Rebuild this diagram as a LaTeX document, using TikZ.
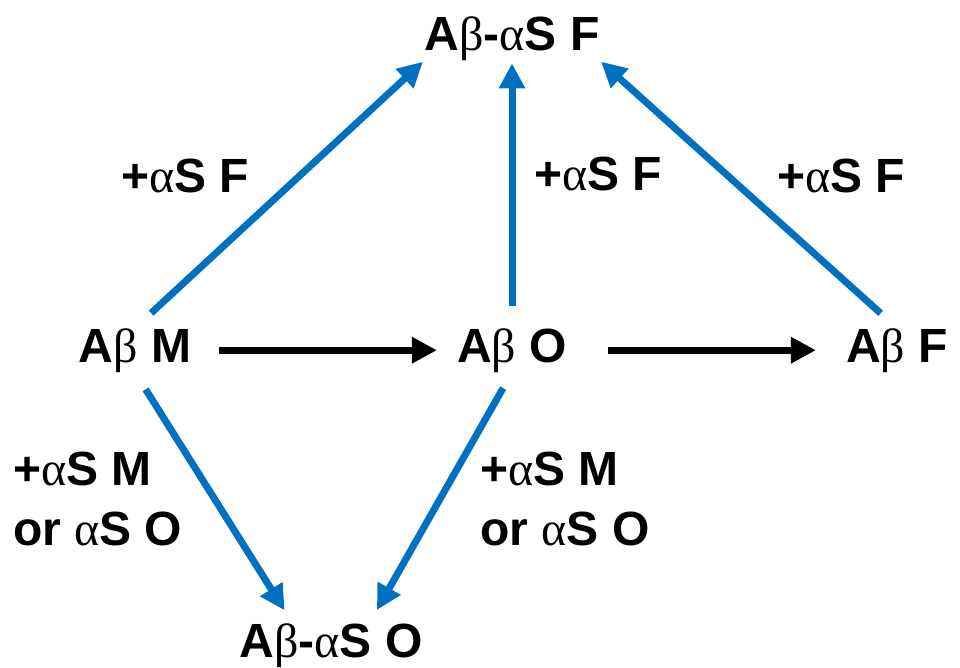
\documentclass[tikz,border=0pt]{standalone}
\usepackage{fontspec}
\setmainfont{Liberation Sans}
\newfontfamily\greekfont{Liberation Serif}
\usetikzlibrary{
    arrows.meta,   % For arrow tips
    positioning
}
\definecolor{arrowblue}{RGB}{0,112,192}
\newcommand{\galpha}{{\greekfont\mdseries α}}
\newcommand{\gbeta}{{\greekfont\mdseries β}}

\begin{document}
\begin{tikzpicture}[
    x=1pt, y=-1pt,
    >={Triangle[length=25pt, width=25pt]}, % Big solid arrow heads
    % Style for the amyloid species
    species/.style={inner sep=0pt, font=\fontsize{48}{60}\selectfont\bfseries},
    % Style for the conditions written next to the arrows
    cond/.style={inner sep=0pt, font=\fontsize{48}{60}\selectfont\bfseries, align=left},
    growth/.style={->, line width=7pt, black},
    seeding/.style={->, line width=7pt, arrowblue}
]
    \useasboundingbox (0,0) rectangle (960,667);

    % Species
    \node[species, anchor=base] (ABaSF) at (512,50) {A\gbeta-\galpha S F};
    \node[species, anchor=base] (ABM) at (135,362) {A\gbeta{} M};
    \node[species, anchor=base] (ABO) at (512,362) {A\gbeta{} O};
    \node[species, anchor=base] (ABF) at (897,362) {A\gbeta{} F};
    \node[species, anchor=base] (ABaSO) at (331,657) {A\gbeta-\galpha S O};

    % Aggregation without alpha-synuclein
    \draw[growth, shorten <=28pt, shorten >=20pt] (ABM) -- (ABO);
    \draw[growth, shorten <=41pt, shorten >=30pt] (ABO) -- (ABF);

    % Cross-seeding towards the fibrils
    \draw[seeding, shorten <=22pt, shorten >=2pt] (ABM.north) -- (ABaSF.south west);
    \draw[seeding, shorten <=22pt, shorten >=3pt] (ABO.north) -- (ABaSF.south);
    \draw[seeding, shorten <=22pt, shorten >=2pt] (ABF.north) -- (ABaSF.south east);

    % Cross-seeding towards the oligomers
    \draw[seeding, shorten <=20pt, shorten >=15pt] (ABM.south) -- (ABaSO.150);
    \draw[seeding, shorten <=18pt, shorten >=15pt] (ABO.south) -- (ABaSO.30);

    % Conditions
    \node[cond, anchor=base] (cF1) at (185,192) {+\galpha S F};
    \node[cond, anchor=base] (cF2) at (598,190) {+\galpha S F};
    \node[cond, anchor=base] (cF3) at (841,192) {+\galpha S F};
    \node[cond, anchor=north west] (cMO1) at (13,452) {+\galpha S M\\or \galpha S O};
    \node[cond, anchor=north west] (cMO2) at (480,452) {+\galpha S M\\or \galpha S O};

\end{tikzpicture}
\end{document}
